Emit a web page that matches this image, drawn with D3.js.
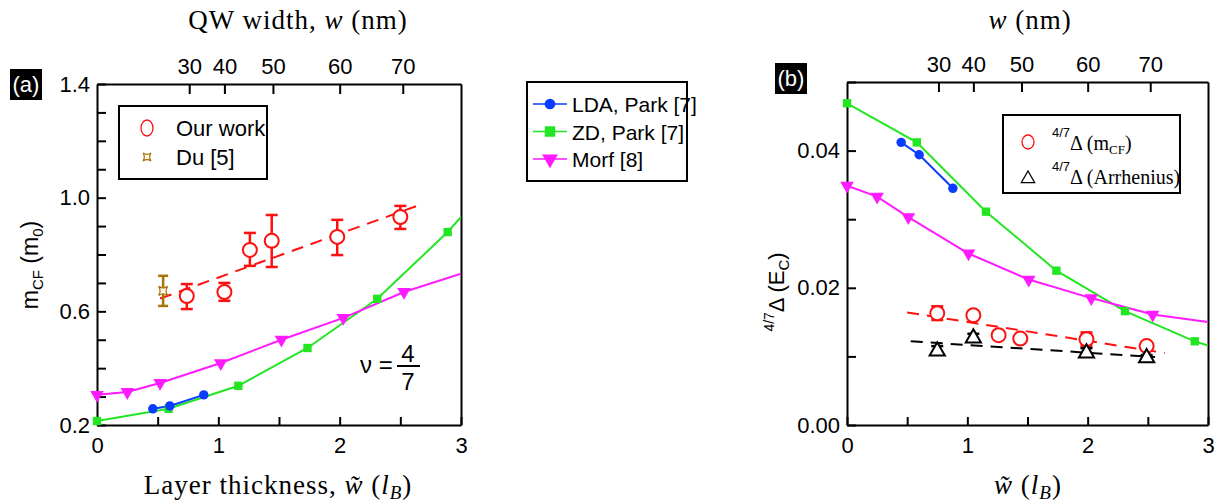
<!DOCTYPE html>
<html>
<head>
<meta charset="utf-8">
<script src="https://cdn.jsdelivr.net/npm/d3@7"></script>
<style>
  body { margin: 0; background: #fff; }
  text { font-family: "Liberation Sans", Arial, sans-serif; }
  .serif { font-family: "Liberation Serif", "Times New Roman", serif; }
</style>
</head>
<body>
<script>
// ---- shared ticks
var xTicks = [0, 0.5, 1, 1.5, 2, 2.5, 3];
var topTickPos = [0.76, 1.05, 1.45, 2.0, 2.52];   // w~ position of each nm tick
var topTickLab = ["30", "40", "50", "60", "70"];
var yTicksA = [0.2, 0.3, 0.4, 0.5, 0.6, 0.7, 0.8, 0.9, 1.0, 1.1, 1.2, 1.3, 1.4];
var yLabelsA = [0.2, 0.6, 1.0, 1.4];
var yTicksB = [0, 0.01, 0.02, 0.03, 0.04, 0.05];
var yLabelsB = [0, 0.02, 0.04];

// ---- panel (a): m_CF
var ldaXa = [0.46, 0.60, 0.88];
var ldaYa = [0.257, 0.267, 0.306];
var zdXa = [0, 0.59, 1.165, 1.735, 2.31, 2.89, 3.0];
var zdYa = [0.214, 0.257, 0.338, 0.471, 0.644, 0.879, 0.932];
var morfXa = [0, 0.25, 0.52, 1.02, 1.52, 2.03, 2.53, 3.0];
var morfYa = [0.306, 0.316, 0.348, 0.418, 0.50, 0.577, 0.668, 0.732];
var oursX = [0.74, 1.05, 1.26, 1.44, 1.98, 2.50];
var oursY = [0.654, 0.668, 0.816, 0.848, 0.862, 0.932];
var oursLo = [0.608, 0.637, 0.760, 0.756, 0.798, 0.890];
var oursHi = [0.696, 0.700, 0.876, 0.939, 0.922, 0.971];
var duX = [0.545], duY = [0.672], duLo = [0.619], duHi = [0.725];
var fitXa = [0.52, 2.63], fitYa = [0.645, 0.97];

// ---- panel (b): gap
var zdXb = [0, 0.58, 1.155, 1.74, 2.31, 2.89, 3.0];
var zdYb = [0.0469, 0.0412, 0.0311, 0.0225, 0.0166, 0.0122, 0.0116];
var ldaXb = [0.45, 0.60, 0.88];
var ldaYb = [0.0412, 0.0394, 0.0345];
var morfXb = [0, 0.25, 0.51, 1.01, 1.51, 2.03, 2.54, 3.0];
var morfYb = [0.0349, 0.0333, 0.0303, 0.0250, 0.0212, 0.0185, 0.0161, 0.0150];
var mcfX = [0.75, 1.05, 1.26, 1.44, 1.99, 2.49];
var mcfY = [0.0163, 0.0160, 0.0131, 0.0126, 0.0125, 0.0115];
var mcfErr = [0.0010, 0, 0, 0, 0.0010, 0.0004];
var arrX = [0.75, 1.05, 1.99, 2.49];
var arrY = [0.0109, 0.0128, 0.0106, 0.0099];
var arrErr = [0.0006, 0.0005, 0.0006, 0.0003];
var fitXmcf = [0.50, 2.64], fitYmcf = [0.0164, 0.0105];
var fitXarr = [0.53, 2.56], fitYarr = [0.0122, 0.0099];

var RED = "#ff1010", BLUE = "#0a3cff", GREEN = "#22e622", MAG = "#ff1aff", BROWN = "#a8720c";

var svg = d3.select("body").append("svg")
    .attr("width", 1224)
    .attr("height", 502);

var xa = d3.scaleLinear().domain([0, 3]).range([97, 461]);
var ya = d3.scaleLinear().domain([0.2, 1.4]).range([425, 84]);
var xb = d3.scaleLinear().domain([0, 3]).range([847, 1208]);
var yb = d3.scaleLinear().domain([0, 0.05]).range([425, 82]);

function pts(xs, ys) { return xs.map(function(d, i) { return [d, ys[i]]; }); }

function styleAxis(g) {
  g.attr("font-family", "Liberation Sans, Arial, sans-serif").attr("font-size", 22);
  g.selectAll("path,line").attr("stroke", "#000").attr("stroke-width", 2);
  g.selectAll("text").attr("fill", "#000");
}

function axes(x, y, id, yTicks, yLabels, yFmt) {
  var x0 = x.range()[0], x1 = x.range()[1], yT = y.range()[1], yB = y.range()[0];
  svg.append("clipPath").attr("id", id)
    .append("rect").attr("x", x0).attr("y", yT).attr("width", x1 - x0).attr("height", yB - yT);

  svg.append("g").attr("transform", "translate(0," + yB + ")")
    .call(d3.axisBottom(x).tickValues(xTicks).tickSizeInner(-8).tickSizeOuter(0).tickPadding(12)
      .tickFormat(function(d) { return d % 1 === 0 ? d : ""; }))
    .call(styleAxis);
  svg.append("g").attr("transform", "translate(0," + yT + ")")
    .call(d3.axisTop(x).tickValues(topTickPos).tickSizeInner(-10).tickSizeOuter(0).tickPadding(10)
      .tickFormat(function(d, i) { return topTickLab[i]; }))
    .call(styleAxis);
  svg.append("g").attr("transform", "translate(" + x0 + ",0)")
    .call(d3.axisLeft(y).tickValues(yTicks).tickSizeInner(-9).tickSizeOuter(0).tickPadding(7)
      .tickFormat(function(d) { return yLabels.some(function(v) { return Math.abs(v - d) < 1e-9; }) ? yFmt(d) : ""; }))
    .call(styleAxis);
  svg.append("g").attr("transform", "translate(" + x1 + ",0)")
    .call(d3.axisRight(y).tickValues([]).tickSizeOuter(0))
    .call(styleAxis);
}

function curve(x, y, data, color, id, dash) {
  svg.append("path")
    .datum(data)
    .attr("clip-path", "url(#" + id + ")")
    .attr("fill", "none")
    .attr("stroke", color)
    .attr("stroke-width", 2)
    .attr("stroke-dasharray", dash || null)
    .attr("d", d3.line().x(function(d) { return x(d[0]); }).y(function(d) { return y(d[1]); }));
}

function markers(x, y, data, type, color, size) {
  var sym = d3.symbol().type(type).size(size);
  svg.selectAll(null)
    .data(data.filter(function(d) { return d[0] < 3; }))
    .enter().append("path")
    .attr("d", sym)
    .attr("fill", color)
    .attr("transform", function(d) {
      var r = type === d3.symbolTriangle ? " rotate(180)" : "";
      return "translate(" + x(d[0]) + "," + y(d[1]) + ")" + r;
    });
}

function errbars(x, y, xs, lo, hi, color, cap) {
  var g = svg.append("g").attr("stroke", color).attr("stroke-width", 2.5);
  xs.forEach(function(d, i) {
    if (hi[i] - lo[i] <= 0) return;
    g.append("line").attr("x1", x(d)).attr("x2", x(d)).attr("y1", y(lo[i])).attr("y2", y(hi[i]));
    g.append("line").attr("x1", x(d) - cap).attr("x2", x(d) + cap).attr("y1", y(lo[i])).attr("y2", y(lo[i]));
    g.append("line").attr("x1", x(d) - cap).attr("x2", x(d) + cap).attr("y1", y(hi[i])).attr("y2", y(hi[i]));
  });
}

function duShape(s) {
  return "M" + (-s) + "," + (-s) + " Q0," + (-s * 0.35) + " " + s + "," + (-s) +
    " Q" + (s * 0.35) + ",0 " + s + "," + s +
    " Q0," + (s * 0.35) + " " + (-s) + "," + s +
    " Q" + (-s * 0.35) + ",0 " + (-s) + "," + (-s) + "Z";
}

function triUp(s) {
  return "M0," + (-s) + " L" + (s * 0.95) + "," + (s * 0.65) + " L" + (-s * 0.95) + "," + (s * 0.65) + "Z";
}

// ================= panel (a)
axes(xa, ya, "clipA", yTicksA, yLabelsA, d3.format(".1f"));

curve(xa, ya, pts(zdXa, zdYa), GREEN, "clipA");
curve(xa, ya, pts(morfXa, morfYa), MAG, "clipA");
curve(xa, ya, pts(ldaXa, ldaYa), BLUE, "clipA");
markers(xa, ya, pts(zdXa, zdYa), d3.symbolSquare, GREEN, 70);
markers(xa, ya, pts(morfXa, morfYa), d3.symbolTriangle, MAG, 80);
markers(xa, ya, pts(ldaXa, ldaYa), d3.symbolCircle, BLUE, 70);

curve(xa, ya, pts(fitXa, fitYa), RED, "clipA", "12,8");
errbars(xa, ya, duX, duLo, duHi, BROWN, 5);
svg.selectAll(null).data(pts(duX, duY)).enter().append("path")
  .attr("d", duShape(4.5))
  .attr("fill", "#fff8e8").attr("stroke", BROWN).attr("stroke-width", 1.2)
  .attr("transform", function(d) { return "translate(" + xa(d[0]) + "," + ya(d[1]) + ")"; });
errbars(xa, ya, oursX, oursLo, oursHi, RED, 6);
svg.selectAll(null).data(pts(oursX, oursY)).enter().append("circle")
  .attr("cx", function(d) { return xa(d[0]); })
  .attr("cy", function(d) { return ya(d[1]); })
  .attr("r", 7)
  .attr("fill", "#fff").attr("stroke", RED).attr("stroke-width", 2);

// legend (a)
svg.append("rect").attr("x", 119).attr("y", 106).attr("width", 148).attr("height", 73)
  .attr("fill", "#fff").attr("stroke", "#000").attr("stroke-width", 2);
svg.append("ellipse").attr("cx", 147).attr("cy", 128).attr("rx", 6).attr("ry", 8)
  .attr("fill", "#fff").attr("stroke", RED).attr("stroke-width", 1.3);
svg.append("path").attr("d", duShape(4)).attr("transform", "translate(147,157)")
  .attr("fill", "#fff8e8").attr("stroke", BROWN).attr("stroke-width", 1.2);
svg.append("text").attr("x", 176).attr("y", 136).attr("font-size", 22).text("Our work");
svg.append("text").attr("x", 176).attr("y", 165).attr("font-size", 22).text("Du [5]");

// nu = 4/7
svg.append("text").attr("x", 360).attr("y", 373).attr("font-size", 24).text("ν =");
svg.append("text").attr("x", 408).attr("y", 362).attr("font-size", 24).attr("text-anchor", "middle").text("4");
svg.append("line").attr("x1", 397).attr("x2", 420).attr("y1", 366).attr("y2", 366).attr("stroke", "#000").attr("stroke-width", 2);
svg.append("text").attr("x", 408).attr("y", 390).attr("font-size", 24).attr("text-anchor", "middle").text("7");

// titles (a)
svg.append("text").attr("class", "serif").attr("x", 298).attr("y", 29).attr("font-size", 27)
  .attr("text-anchor", "middle").attr("letter-spacing", 1)
  .html('QW width, <tspan font-style="italic">w</tspan> (nm)');
svg.append("text").attr("class", "serif").attr("x", 278).attr("y", 494).attr("font-size", 27)
  .attr("text-anchor", "middle").attr("letter-spacing", 1)
  .html('Layer thickness, <tspan font-style="italic">w̃</tspan> (<tspan font-style="italic">l</tspan><tspan font-style="italic" font-size="19" dy="5">B</tspan><tspan dy="-5">)</tspan>');
svg.append("text").attr("transform", "translate(38,265) rotate(-90)").attr("font-size", 23)
  .attr("text-anchor", "middle")
  .html('m<tspan font-size="15" dy="5">CF</tspan><tspan dy="-5"> (m</tspan><tspan font-size="15" dy="5">0</tspan><tspan dy="-5">)</tspan>');

svg.append("rect").attr("x", 10).attr("y", 69).attr("width", 32).attr("height", 31).attr("fill", "#000");
svg.append("text").attr("x", 26).attr("y", 92).attr("font-size", 22).attr("fill", "#fff")
  .attr("text-anchor", "middle").text("(a)");

// ================= middle legend
var midItems = [
  {name: "LDA, Park [7]", color: BLUE, type: d3.symbolCircle},
  {name: "ZD, Park [7]", color: GREEN, type: d3.symbolSquare},
  {name: "Morf [8]", color: MAG, type: d3.symbolTriangle}
];
svg.append("rect").attr("x", 527).attr("y", 82).attr("width", 160).attr("height", 99)
  .attr("fill", "#fff").attr("stroke", "#000").attr("stroke-width", 2);
midItems.forEach(function(d, i) {
  var yy = 104 + i * 27.5;
  svg.append("line").attr("x1", 533).attr("x2", 567).attr("y1", yy).attr("y2", yy)
    .attr("stroke", d.color).attr("stroke-width", 1.3);
  svg.append("path").attr("d", d3.symbol().type(d.type).size(d.type === d3.symbolCircle ? 90 : 110))
    .attr("transform", "translate(550," + yy + ")" + (d.type === d3.symbolTriangle ? " rotate(180)" : ""))
    .attr("fill", d.color);
  svg.append("text").attr("x", 572).attr("y", yy + 8).attr("font-size", 21).text(d.name);
});

// ================= panel (b)
axes(xb, yb, "clipB", yTicksB, yLabelsB, d3.format(".2f"));

curve(xb, yb, pts(zdXb, zdYb), GREEN, "clipB");
curve(xb, yb, pts(morfXb, morfYb), MAG, "clipB");
curve(xb, yb, pts(ldaXb, ldaYb), BLUE, "clipB");
markers(xb, yb, pts(zdXb, zdYb), d3.symbolSquare, GREEN, 70);
markers(xb, yb, pts(morfXb, morfYb), d3.symbolTriangle, MAG, 80);
markers(xb, yb, pts(ldaXb, ldaYb), d3.symbolCircle, BLUE, 70);

curve(xb, yb, pts(fitXmcf, fitYmcf), RED, "clipB", "12,8");
curve(xb, yb, pts(fitXarr, fitYarr), "#000", "clipB", "12,8");

errbars(xb, yb, mcfX, mcfY.map(function(d, i) { return d - mcfErr[i]; }),
  mcfY.map(function(d, i) { return d + mcfErr[i]; }), RED, 6);
svg.selectAll(null).data(pts(mcfX, mcfY)).enter().append("circle")
  .attr("cx", function(d) { return xb(d[0]); })
  .attr("cy", function(d) { return yb(d[1]); })
  .attr("r", 7)
  .attr("fill", "#fff").attr("stroke", RED).attr("stroke-width", 2);
errbars(xb, yb, arrX, arrY.map(function(d, i) { return d - arrErr[i]; }),
  arrY.map(function(d, i) { return d + arrErr[i]; }), "#000", 6);
svg.selectAll(null).data(pts(arrX, arrY)).enter().append("path")
  .attr("d", triUp(8))
  .attr("fill", "#fff").attr("stroke", "#000").attr("stroke-width", 2)
  .attr("transform", function(d) { return "translate(" + xb(d[0]) + "," + yb(d[1]) + ")"; });

// legend (b)
svg.append("rect").attr("x", 1003).attr("y", 115).attr("width", 177).attr("height", 78)
  .attr("fill", "#fff").attr("stroke", "#000").attr("stroke-width", 2);
svg.append("ellipse").attr("cx", 1028).attr("cy", 142).attr("rx", 6).attr("ry", 7)
  .attr("fill", "#fff").attr("stroke", RED).attr("stroke-width", 1.3);
svg.append("path").attr("d", triUp(7)).attr("transform", "translate(1028,178)")
  .attr("fill", "#fff").attr("stroke", "#000").attr("stroke-width", 1.3);
svg.append("text").attr("x", 1052).attr("y", 150).attr("font-size", 20)
  .html('<tspan font-size="13" dy="-13" font-family="Liberation Sans, Arial">4/7</tspan><tspan class="serif" dy="13">Δ (m</tspan><tspan class="serif" font-size="13" dy="4">CF</tspan><tspan class="serif" dy="-4">)</tspan>');
svg.append("text").attr("x", 1052).attr("y", 184).attr("font-size", 20)
  .html('<tspan font-size="13" dy="-13" font-family="Liberation Sans, Arial">4/7</tspan><tspan class="serif" dy="13">Δ (Arrhenius)</tspan>');

// titles (b)
svg.append("text").attr("class", "serif").attr("x", 1030).attr("y", 29).attr("font-size", 27)
  .attr("text-anchor", "middle").attr("letter-spacing", 1)
  .html('<tspan font-style="italic">w</tspan> (nm)');
svg.append("text").attr("class", "serif").attr("x", 1028).attr("y", 494).attr("font-size", 27)
  .attr("text-anchor", "middle").attr("letter-spacing", 1)
  .html('<tspan font-style="italic">w̃</tspan> (<tspan font-style="italic">l</tspan><tspan font-style="italic" font-size="19" dy="5">B</tspan><tspan dy="-5">)</tspan>');
svg.append("text").attr("transform", "translate(784,292) rotate(-90)").attr("font-size", 22)
  .attr("text-anchor", "middle")
  .html('<tspan font-size="14" dy="-10">4/7</tspan><tspan dy="10">Δ (E</tspan><tspan font-size="15" dy="5">C</tspan><tspan dy="-5">)</tspan>');

svg.append("rect").attr("x", 775).attr("y", 63).attr("width", 32).attr("height", 31).attr("fill", "#000");
svg.append("text").attr("x", 791).attr("y", 86).attr("font-size", 22).attr("fill", "#fff")
  .attr("text-anchor", "middle").text("(b)");
</script>
</body>
</html>
